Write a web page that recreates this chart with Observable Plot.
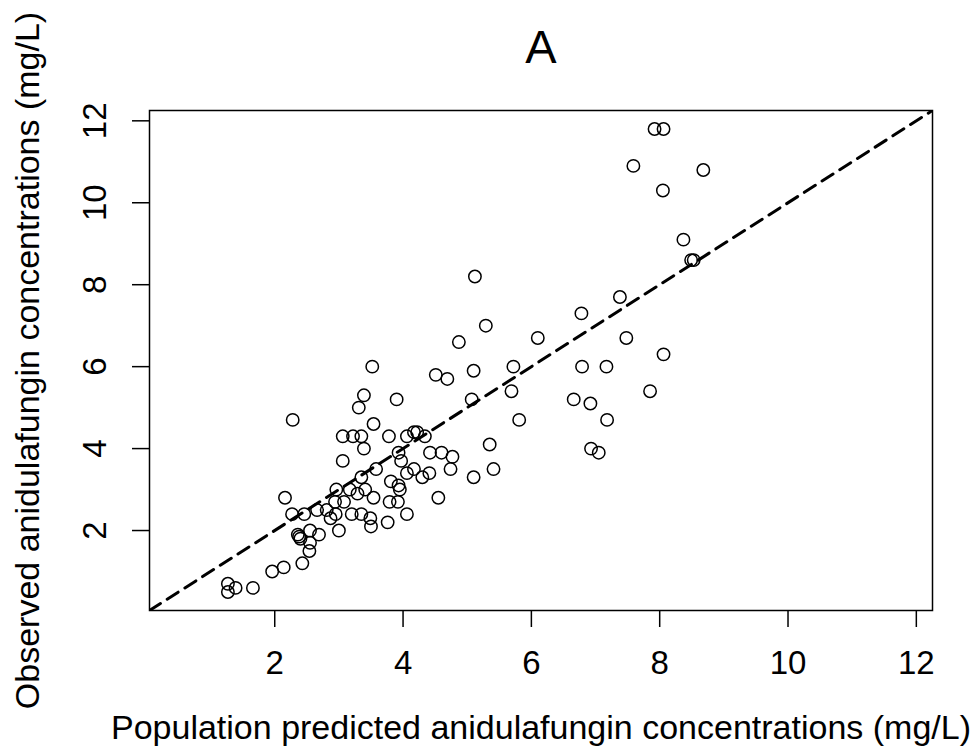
<!DOCTYPE html>
<html>
<head>
<meta charset="utf-8">
<script src="https://cdn.jsdelivr.net/npm/d3@7"></script>
<script src="https://cdn.jsdelivr.net/npm/@observablehq/plot@0.6"></script>
<style>
  html, body { margin: 0; padding: 0; background: #fff; }
  #chart { width: 980px; height: 750px; }
</style>
</head>
<body>
<div id="chart"></div>
<script>
// Population predicted (x) and observed (y) anidulafungin concentrations, mg/L
const predicted = [
  7.92, 8.06, 7.59, 8.68, 8.05, 8.37, 8.49, 8.53, 5.12, 7.38,
  6.78, 5.29, 6.10, 7.48, 4.87, 8.06, 6.79, 7.17, 5.72, 3.52,
  4.51, 4.69, 5.10, 5.69, 7.85, 6.66, 6.92, 5.07, 3.90, 3.39,
  3.31, 7.18, 5.81, 2.28, 3.54, 6.93, 7.05, 3.06, 3.22, 3.35,
  3.78, 4.06, 4.17, 4.22, 4.34, 3.39, 5.35, 3.06, 5.41, 5.10,
  4.55, 4.42, 4.60, 4.77, 4.74, 3.93, 3.97, 3.58, 3.35, 4.17,
  4.06, 4.30, 4.41, 3.81, 3.93, 3.95, 2.96, 3.17, 3.29, 3.41,
  3.54, 3.08, 3.79, 3.92, 4.06, 2.95, 3.20, 3.35, 3.49, 3.50,
  3.76, 3.00, 2.94, 2.27, 2.16, 2.46, 2.66, 2.81, 2.87, 2.36,
  2.40, 2.55, 2.69, 2.55, 2.54, 2.43, 2.14, 1.96, 1.66, 1.27,
  1.39, 1.27, 2.38
];
const observed = [
  11.8, 11.8, 10.9, 10.8, 10.3, 9.1, 8.6, 8.6, 8.2, 7.7,
  7.3, 7.0, 6.7, 6.7, 6.6, 6.3, 6.0, 6.0, 6.0, 6.0,
  5.8, 5.7, 5.9, 5.4, 5.4, 5.2, 5.1, 5.2, 5.2, 5.3,
  5.0, 4.7, 4.7, 4.7, 4.6, 4.0, 3.9, 4.3, 4.3, 4.3,
  4.3, 4.3, 4.4, 4.4, 4.3, 4.0, 4.1, 3.7, 3.5, 3.3,
  2.8, 3.9, 3.9, 3.8, 3.5, 3.9, 3.7, 3.5, 3.3, 3.5,
  3.4, 3.3, 3.4, 3.2, 3.1, 3.0, 3.0, 3.0, 2.9, 3.0,
  2.8, 2.7, 2.7, 2.7, 2.4, 2.4, 2.4, 2.4, 2.3, 2.1,
  2.2, 2.0, 2.7, 2.4, 2.8, 2.4, 2.5, 2.5, 2.3, 1.9,
  1.8, 2.0, 1.9, 1.7, 1.5, 1.2, 1.1, 1.0, 0.6, 0.7,
  0.6, 0.5, 1.85
];
const xTicks = [2, 4, 6, 8, 10, 12];
const yTicks = [2, 4, 6, 8, 10, 12];
const titleText = "A";
const xLabel = "Population predicted anidulafungin concentrations (mg/L)";
const yLabel = "Observed anidulafungin concentrations (mg/L)";

const points = predicted.map((p, i) => ({pred: p, obs: observed[i]}));

// Shared axis limits: range of all values, extended 4% each side (R style)
const ext = d3.extent([...predicted, ...observed]);
const pad = (ext[1] - ext[0]) * 0.04;
const lim = [ext[0] - pad, ext[1] + pad];
const identity = lim.map(v => ({pred: v, obs: v}));

const font = "'Liberation Sans', Arial, Helvetica, sans-serif";
const txt = {fill: "#000", textAnchor: "middle", lineAnchor: "middle"};

const chart = Plot.plot({
  width: 980,
  height: 750,
  marginLeft: 149,
  marginRight: 48,
  marginTop: 110,
  marginBottom: 140,
  style: {fontFamily: font, background: "#fff", color: "#000"},
  x: {domain: lim, axis: null},
  y: {domain: lim, axis: null},
  marks: [
    Plot.line(identity, {x: "pred", y: "obs", stroke: "#000", strokeWidth: 3, strokeDasharray: "13,8", clip: true}),
    Plot.dot(points, {x: "pred", y: "obs", r: 6.2, stroke: "#000", strokeWidth: 1.5, fill: "none"}),
    Plot.frame({stroke: "#000", strokeWidth: 1.5}),
    Plot.axisX(xTicks, {anchor: "bottom", tickSize: 17, strokeWidth: 1.5, tickFormat: () => "", tickPadding: 0, label: null}),
    Plot.axisY(yTicks, {anchor: "left", tickSize: 17, strokeWidth: 1.5, tickFormat: () => "", tickPadding: 0, label: null}),
    Plot.text(xTicks, {x: d => d, frameAnchor: "bottom", dy: 53, text: d => String(d), fontSize: 33, ...txt}),
    Plot.text(yTicks, {y: d => d, frameAnchor: "left", dx: -54, rotate: -90, text: d => String(d), fontSize: 33, ...txt}),
    Plot.text([titleText], {frameAnchor: "top", dy: -63, text: d => d, fontSize: 47, ...txt}),
    Plot.text([xLabel], {frameAnchor: "bottom", dy: 118, text: d => d, fontSize: 34, ...txt}),
    Plot.text([yLabel], {frameAnchor: "left", dx: -121, rotate: -90, text: d => d, fontSize: 34, ...txt})
  ]
});
document.getElementById("chart").appendChild(chart);
</script>
</body>
</html>
